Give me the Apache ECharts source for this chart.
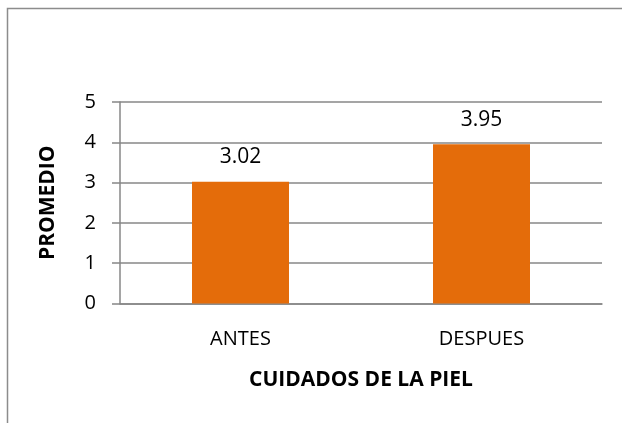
<!DOCTYPE html>
<html>
<head>
<meta charset="utf-8">
<script src="https://cdn.jsdelivr.net/npm/echarts@6/dist/echarts.min.js"></script>
<style>
html,body{margin:0;padding:0;background:#fff;}
#chart{width:622px;height:423px;}
</style>
</head>
<body>
<div id="chart"></div>
<script>
const categories = ['ANTES', 'DESPUES'];
const values = [3.02, 3.95];
const yTicks = [0, 1, 2, 3, 4, 5];
const xName = 'CUIDADOS DE LA PIEL';
const yName = 'PROMEDIO';

const FONT = 'Open Sans';
const chart = echarts.init(document.getElementById('chart'), null, {renderer: 'canvas'});
chart.setOption({
  animation: false,
  backgroundColor: '#ffffff',
  graphic: [{
    type: 'rect',
    shape: {x: 7.5, y: 8.5, width: 700, height: 500},
    style: {fill: 'none', stroke: '#8c8c8c', lineWidth: 1.5},
    silent: true
  }],
  grid: {left: 120, right: 20, top: 102, bottom: 119.5, containLabel: false},
  xAxis: {
    type: 'category',
    data: categories,
    name: xName,
    nameLocation: 'middle',
    nameGap: 66,
    nameTextStyle: {fontFamily: FONT, fontWeight: 'bold', fontSize: 21, color: '#000'},
    axisLine: {lineStyle: {color: '#878787', width: 1.5}},
    axisTick: {show: false},
    axisLabel: {fontFamily: FONT, fontSize: 20, color: '#000', margin: 26}
  },
  yAxis: {
    type: 'value',
    min: yTicks[0],
    max: yTicks[yTicks.length - 1],
    interval: 1,
    name: yName,
    nameLocation: 'middle',
    nameGap: 61,
    nameTextStyle: {fontFamily: FONT, fontWeight: 'bold', fontSize: 21, color: '#000'},
    axisLine: {show: true, lineStyle: {color: '#878787', width: 1.5}},
    axisTick: {show: true, length: 8, lineStyle: {color: '#878787', width: 1.5}},
    axisLabel: {fontFamily: FONT, fontSize: 20, color: '#000', margin: 24},
    splitLine: {lineStyle: {color: '#878787', width: 1.5}}
  },
  series: [{
    type: 'bar',
    data: values,
    barWidth: 97,
    itemStyle: {color: '#E46C0A'},
    label: {
      show: true,
      position: 'top',
      distance: 14,
      fontFamily: FONT,
      fontSize: 21,
      color: '#000',
      formatter: p => p.value.toFixed(2)
    }
  }]
});
</script>
</body>
</html>
